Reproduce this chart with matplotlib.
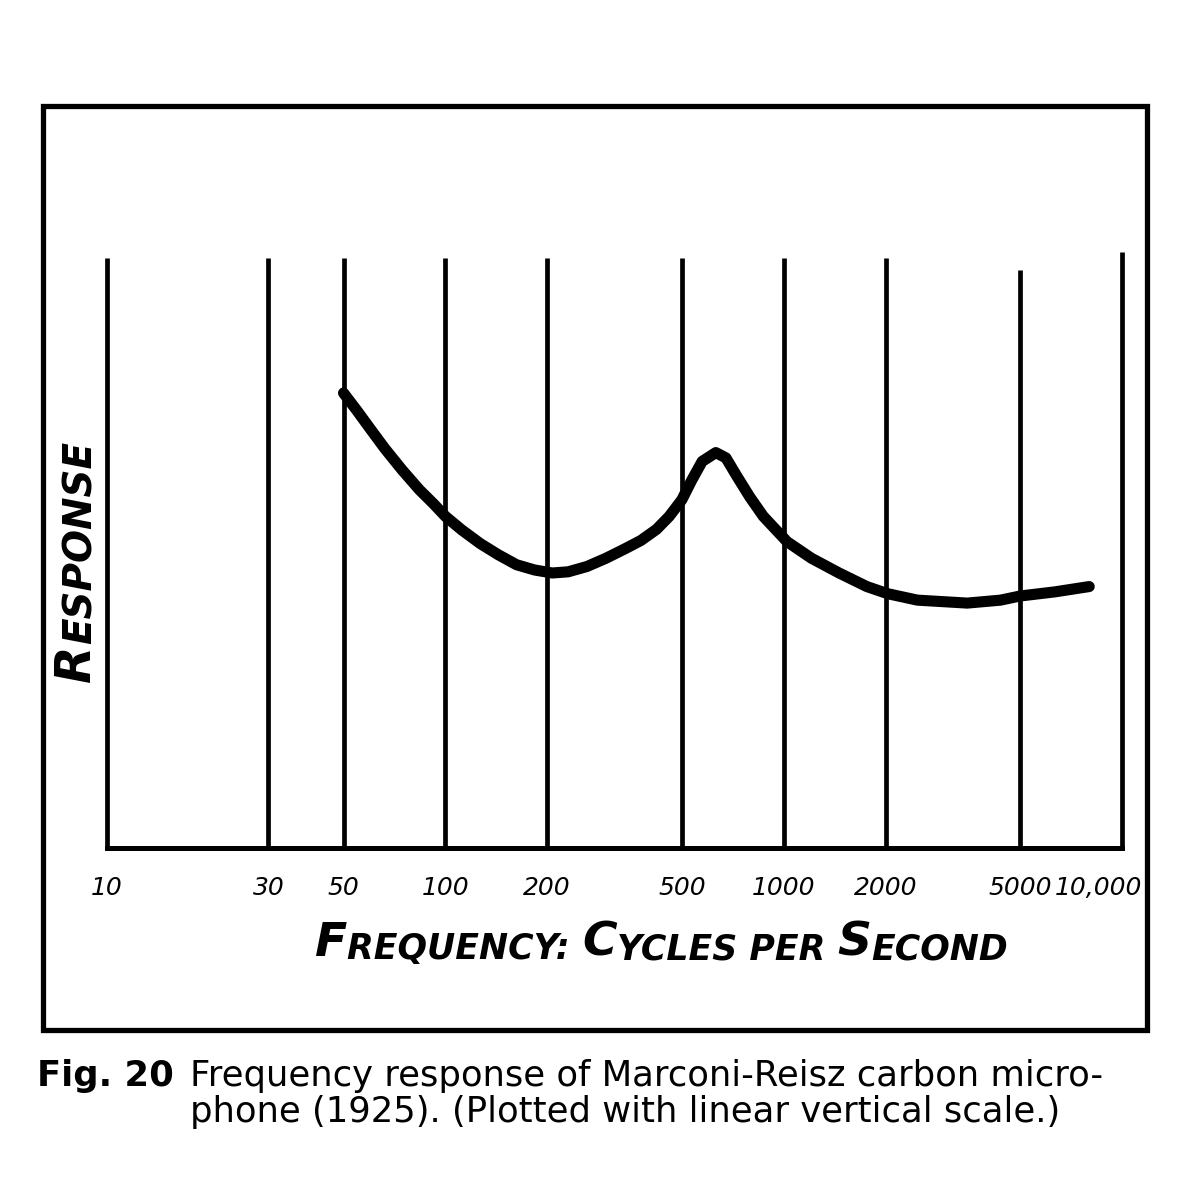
import matplotlib.pyplot as plt
import matplotlib.transforms as mtransforms
from matplotlib.patches import Rectangle

# curve: frequency (c/s) and response (linear, arbitrary 0-10)
freq = [50, 54.8, 60.2, 66.2, 74.4, 83.8, 92, 100, 111.8, 126.7, 143.3, 162.3,
        183.8, 207, 230.6, 262.2, 298.4, 339.5, 378.2, 421, 458.9, 500, 535.8,
        574.1, 630.1, 675.1, 723.6, 793.6, 870.6, 1023.5, 1208, 1458, 1761, 2027,
        2485, 3489, 4375, 5000, 6331, 8000]
resp = [7.71, 7.41, 7.09, 6.77, 6.41, 6.07, 5.84, 5.62, 5.39, 5.16, 4.97, 4.80,
        4.71, 4.66, 4.68, 4.77, 4.91, 5.07, 5.21, 5.40, 5.62, 5.90, 6.24,
        6.55, 6.70, 6.61, 6.32, 5.95, 5.62, 5.19, 4.91, 4.66, 4.43, 4.31,
        4.20, 4.15, 4.20, 4.27, 4.34, 4.43]

grid_freqs = [10, 30, 50, 100, 200, 500, 1000, 2000, 5000, 10000]
grid_tops = [10, 10, 10, 10, 10, 10, 10, 10, 9.8, 10.1]
tick_labels = ["10", "30", "50", "100", "200", "500", "1000", "2000", "5000", "10,000"]

fig = plt.figure(figsize=(12, 12), dpi=100)
fig.patch.set_facecolor("white")

ax = fig.add_axes([0.0892, 0.2933, 0.8458, 0.5017])
ax.set_xscale("log")
ax.set_xlim(10, 10000)
ax.set_ylim(0, 10.2)

ax.vlines(grid_freqs, 0, grid_tops, color="black", linewidth=3.4, clip_on=False)
ax.plot(freq, resp, color="black", linewidth=8, solid_capstyle="round",
        solid_joinstyle="round", clip_on=False)

for s in ["top", "right", "left"]:
    ax.spines[s].set_visible(False)
ax.spines["bottom"].set_linewidth(3.6)
ax.set_yticks([])
ax.minorticks_off()
ax.set_xticks(grid_freqs)
ax.set_xticklabels(tick_labels, fontsize=18, fontstyle="italic")
ax.tick_params(axis="x", length=0, pad=20)
# last label would run over the frame, pull it to the left
lbl = ax.get_xticklabels()[-1]
lbl.set_horizontalalignment("right")
lbl.set_transform(lbl.get_transform() + mtransforms.ScaledTranslation(0.2, 0, fig.dpi_scale_trans))


# small-caps looking axis titles, built from chained pieces
def chain(pieces, x, y, rotation=0):
    prev = None
    for s, size in pieces:
        kw = dict(fontsize=size, fontstyle="italic", fontweight="bold", color="black")
        if prev is None:
            if rotation == 0:
                prev = fig.text(x, y, s, ha="left", va="bottom", **kw)
            else:
                prev = fig.text(x, y, s, ha="right", va="bottom", rotation=90, **kw)
        elif rotation == 0:
            prev = ax.annotate(s, xy=(1, 0), xycoords=prev, ha="left", va="bottom",
                               annotation_clip=False, **kw)
        else:
            prev = ax.annotate(s, xy=(1, 1), xycoords=prev, ha="right", va="bottom",
                               rotation=90, annotation_clip=False, **kw)


chain([("F", 34), ("REQUENCY: ", 25), ("C", 34), ("YCLES PER ", 25),
       ("S", 34), ("ECOND", 25)], 0.2625, 0.195)
chain([("R", 35), ("ESPONSE", 28)], 0.083, 0.432, rotation=90)

# outer frame
fig.patches.append(Rectangle((0.0358, 0.1417), 0.92, 0.77, transform=fig.transFigure,
                             fill=False, edgecolor="black", linewidth=3.8))

cap = dict(fontsize=25.5, family="DejaVu Sans", color="black")
fig.text(0.031, 0.095, "Fig. 20", fontweight="bold", **cap)
fig.text(0.158, 0.095, "Frequency response of Marconi-Reisz carbon micro-", **cap)
fig.text(0.158, 0.065, "phone (1925). (Plotted with linear vertical scale.)", **cap)

fig.savefig("out.png", dpi=100, facecolor="white")
